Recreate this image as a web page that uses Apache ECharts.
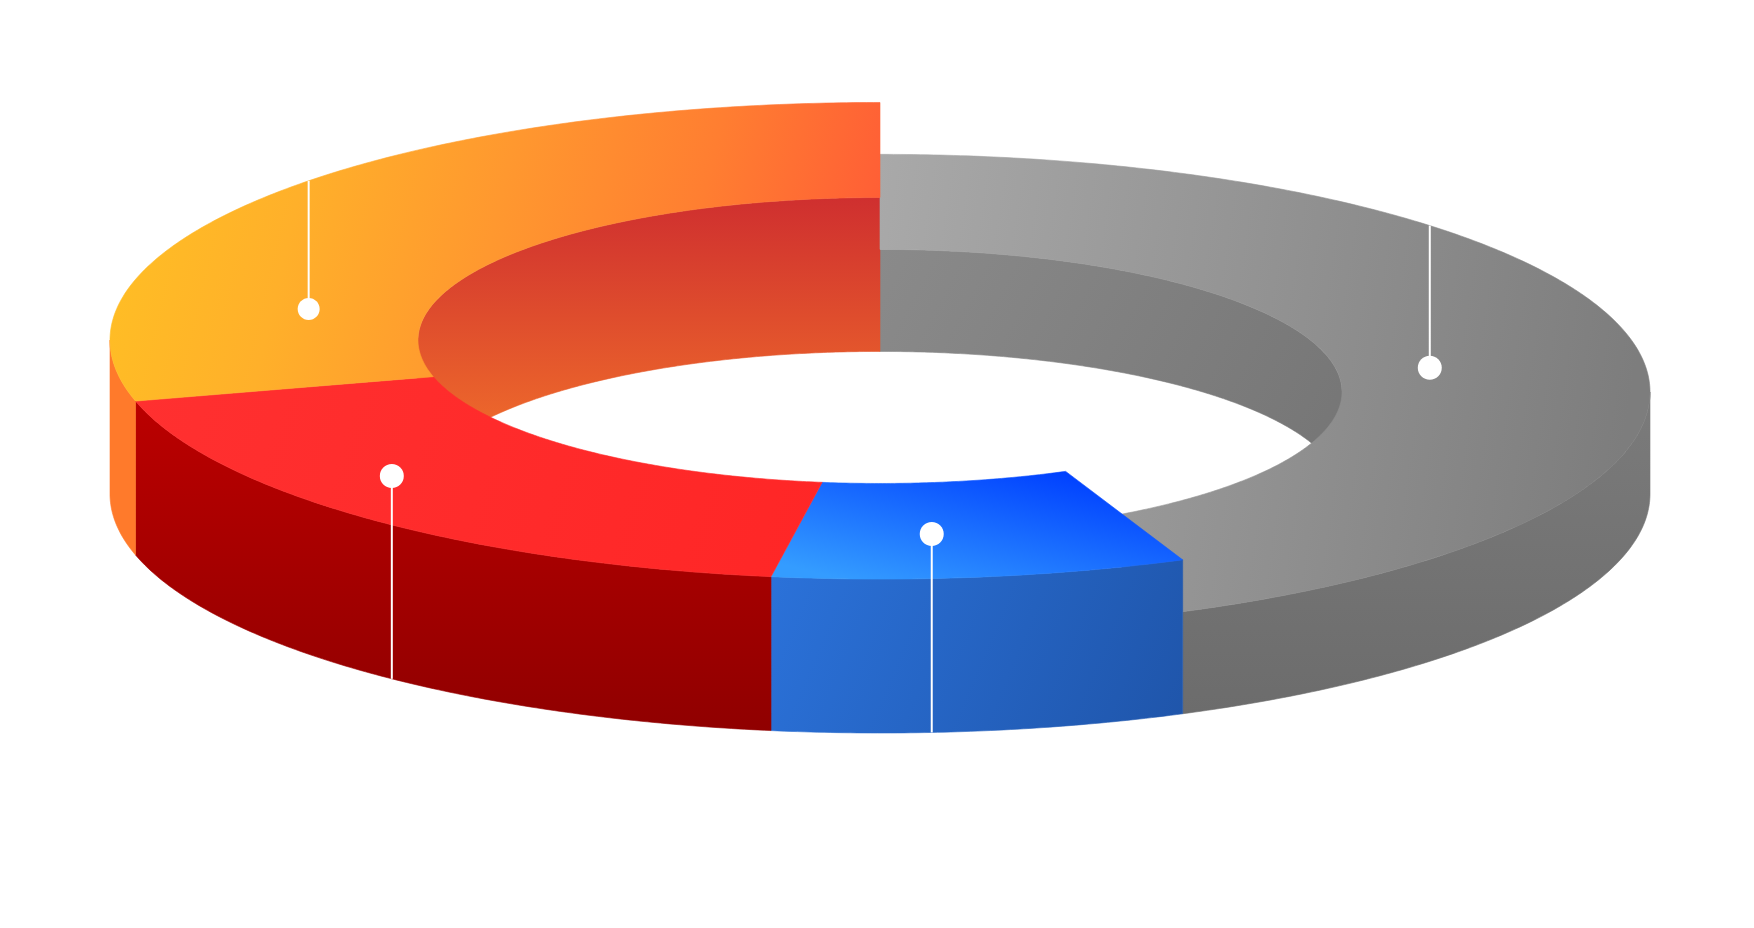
<!DOCTYPE html>
<html>
<head>
<meta charset="utf-8">
<script src="https://cdn.jsdelivr.net/npm/echarts@6/dist/echarts.min.js"></script>
<style>html,body{margin:0;padding:0;background:#fff}#c{width:1754px;height:928px}</style>
</head>
<body>
<div id="c"></div>
<script>
// Slices, clockwise from the top of the ring
var categories = ['Gray', 'Blue', 'Red', 'Orange'];
var shares = [43.57, 8.69, 18.63, 29.11];    // percent of the ring
var heights = [42.7, 64.4, 64.4, 64.4];      // extruded height, axis units
var innerEndShift = [-0.55, -0.95, 0, 0];    // inner rim lags the outer rim at each slice end, degrees
// Marker stems, in axis units
var markerX = [71.4, 6.72, -63.4, -74.2];
var markerY = [52.8, -16.7, 7.5, 77.4];
var stemDirection = [1, -1, -1, 1];          // 1: up to back rim, -1: down to base rim

var OUTER = 100, INNER = 60, BACK_FORESHORTEN = 0.994;

function lin(x, y, x2, y2, stops) {
  return new echarts.graphic.LinearGradient(x, y, x2, y2, stops.map(function (s) {
    return { offset: s[0], color: s[1] };
  }));
}
var topFill = [
  lin(0, 0, 1, 0.25, [[0, '#a9a9a9'], [1, '#7d7d7d']]),
  lin(0.714, 0, 0.622, 1.42, [[0, '#0040ff'], [1, '#349cff']]),
  lin(0, 0, 1, 1, [[0, '#ff3030'], [1, '#ff2626']]),
  lin(0, 0.1, 1, 0.7, [[0, '#ffc024'], [0.25, '#ffb02a'], [0.5, '#ff982f'], [0.75, '#ff7e31'], [1, '#ff5a36']])
];
var outerFill = [
  lin(0, 0, 0, 1, [[0, '#7b7b7b'], [1, '#6c6c6c']]),
  lin(0, 0, 1, 1, [[0, '#2b72da'], [1, '#1f55aa']]),
  lin(0, 0, 0, 1, [[0, '#bb0000'], [1, '#900000']]),
  '#ff7a2b'
];
var innerFill = [
  lin(0, 0, 1, 1, [[0, '#8a8a8a'], [1, '#757575']]),
  '#888', '#888',
  lin(0, 0, 0, 1, [[0, '#cf2f2f'], [1, '#f6792a']])
];
var markerRx = [12, 12, 12, 11];
var markerRy = [12, 12, 12, 11];

var cumulative = [], acc = 0;
shares.forEach(function (v) { cumulative.push(acc); acc += v; });
var sliceData = shares.map(function (v, i) {
  return [cumulative[i], v, heights[i], i > 0 ? innerEndShift[i - 1] : 0, innerEndShift[i]];
});
var markerData = markerX.map(function (x, i) { return [x, markerY[i], stemDirection[i], heights[i]]; });

function arc(api, radius, h, from, to) {
  var pts = [], n = Math.max(2, Math.ceil(Math.abs(to - from) * 2));
  for (var i = 0; i <= n; i++) {
    var t = (from + (to - from) * i / n) * Math.PI / 180;
    var s = Math.sin(t);
    pts.push(api.coord([radius * Math.cos(t), h - radius * s * (s < 0 ? BACK_FORESHORTEN : 1)]));
  }
  return pts;
}
function poly(points, fill, z2) {
  return { type: 'polygon', z2: z2, shape: { points: points },
    style: { fill: fill, stroke: fill, lineWidth: 0.6 } };
}
function renderSlice(params, api) {
  var i = params.dataIndex;
  var from = -90 + api.value(0) * 3.6;
  var to = from + api.value(1) * 3.6;
  var innerFrom = from + api.value(3), innerTo = to + api.value(4);
  var h = api.value(2);
  var children = [];
  // inner wall: only the back half of the ring shows it
  [[-90, 0], [180, 270]].forEach(function (r) {
    var a = Math.max(innerFrom, r[0]), b = Math.min(innerTo, r[1]);
    if (b > a) children.push(poly(arc(api, INNER, h, a, b).concat(arc(api, INNER, 0, b, a)), innerFill[i], 1));
  });
  // the low gray slice is painted first, the taller slices stand in front of it
  var a = Math.max(from, 0), b = Math.min(to, 180);
  if (b > a) children.push(poly(arc(api, OUTER, h, a, b).concat(arc(api, OUTER, 0, b, a)), outerFill[i], i === 0 ? 2 : 4));
  children.push(poly(arc(api, OUTER, h, from, to).concat(arc(api, INNER, h, innerTo, innerFrom)), topFill[i], i === 0 ? 3 : 5 + i));
  return { type: 'group', children: children };
}
function renderMarker(params, api) {
  var i = params.dataIndex;
  var x = api.value(0), y = api.value(1), dir = api.value(2), h = api.value(3);
  var edge = Math.sqrt(OUTER * OUTER - x * x);
  var endY = dir > 0 ? h + edge * BACK_FORESHORTEN : -edge;
  var p = api.coord([x, y]), e = api.coord([x, endY]);
  return {
    type: 'group',
    children: [
      { type: 'line', z2: 20, shape: { x1: p[0], y1: p[1], x2: e[0], y2: e[1] },
        style: { stroke: '#fff', lineWidth: 2 } },
      { type: 'ellipse', z2: 21, shape: { cx: p[0], cy: p[1], rx: markerRx[i], ry: markerRy[i] },
        style: { fill: '#fff' } }
    ]
  };
}

var chart = echarts.init(document.getElementById('c'), null, { renderer: 'canvas' });
chart.setOption({
  animation: false,
  backgroundColor: '#fff',
  grid: { left: 110, right: 104, top: 102, bottom: 195 },
  xAxis: { type: 'value', min: -100, max: 100, show: false },
  yAxis: { type: 'value', min: -100, max: 164, show: false },
  series: [
    { type: 'custom', name: 'slices', coordinateSystem: 'cartesian2d', clip: false, silent: true,
      encode: { x: 0, y: 1 }, data: sliceData, renderItem: renderSlice },
    { type: 'custom', name: 'markers', coordinateSystem: 'cartesian2d', clip: false, silent: true,
      encode: { x: 0, y: 1 }, data: markerData, renderItem: renderMarker }
  ]
});
</script>
</body>
</html>
